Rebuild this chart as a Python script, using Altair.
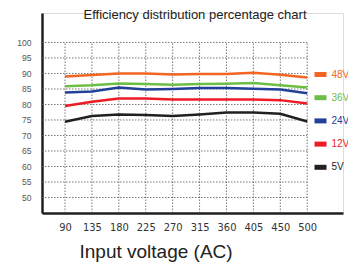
import altair as alt
import pandas as pd

voltages = [90, 135, 180, 225, 270, 315, 360, 405, 450, 500]
eff_48v = [89.0, 89.5, 90.0, 90.0, 89.7, 89.8, 89.8, 90.2, 89.6, 88.7]
eff_36v = [85.9, 86.2, 86.8, 86.6, 86.4, 86.6, 86.7, 86.9, 86.2, 85.5]
eff_24v = [83.9, 84.2, 85.5, 84.8, 85.0, 85.3, 85.3, 85.1, 84.8, 83.6]
eff_12v = [79.5, 80.9, 81.9, 81.9, 81.6, 81.6, 81.6, 81.6, 81.4, 80.3]
eff_5v = [74.4, 76.3, 76.8, 76.6, 76.3, 76.8, 77.4, 77.4, 77.0, 74.5]
series_names = ["48V", "36V", "24V", "12V", "5V"]
series_colors = ["#F26522", "#6DBE45", "#21409A", "#ED1C24", "#231F20"]
y_ticks = [50, 55, 60, 65, 70, 75, 80, 85, 90, 95, 100]

X_MIN, X_MAX = -0.855, 10.33
Y_MIN, Y_MAX = 45, 109.5

rows = []
for name, vals in zip(series_names, [eff_48v, eff_36v, eff_24v, eff_12v, eff_5v]):
    for i, (v, e) in enumerate(zip(voltages, vals)):
        rows.append({"idx": i, "voltage": v, "eff": e, "series": name})
df = pd.DataFrame(rows)
vgrid = pd.DataFrame({"idx": list(range(len(voltages)))})
hgrid = pd.DataFrame({"eff": y_ticks})

label_expr = "[" + ",".join("'%d'" % v for v in voltages) + "][datum.value]"

xscale = alt.Scale(domain=[X_MIN, X_MAX], nice=False, zero=False)
yscale = alt.Scale(domain=[Y_MIN, Y_MAX], nice=False, zero=False)

x_axis = alt.Axis(
    values=list(range(len(voltages))),
    labelExpr=label_expr,
    labelOverlap=False,
    grid=False,
    ticks=False,
    domainColor="#231F20",
    domainWidth=2.5,
    labelFont="'Liberation Sans Narrow', 'DejaVu Sans Condensed', 'Liberation Sans', sans-serif",
    labelFontSize=11,
    labelColor="#333333",
    labelPadding=8,
    title="Input voltage (AC)",
    titleFont="Liberation Sans",
    titleFontWeight="normal",
    titleFontSize=19,
    titleColor="#222222",
    titleAnchor="start",
    titleAlign="left",
    titleX=37,
    titleY=44,
    titleBaseline="alphabetic",
)
y_axis = alt.Axis(
    values=y_ticks,
    labelOverlap=False,
    grid=False,
    ticks=False,
    domainColor="#231F20",
    domainWidth=2.5,
    labelFont="Liberation Sans",
    labelFontSize=8.5,
    labelColor="#555555",
    labelPadding=11,
    title=None,
)

grid_style = dict(color="#555555", strokeWidth=0.8, strokeDash=[1.5, 1.5])

hlines = alt.Chart(hgrid).mark_rule(**grid_style).encode(
    y=alt.Y("eff:Q", scale=yscale, axis=y_axis),
    x=alt.XDatum(X_MIN, scale=xscale, axis=x_axis),
    x2=alt.datum(len(voltages) - 1),
)
vlines = alt.Chart(vgrid).mark_rule(**grid_style).encode(
    x=alt.X("idx:Q", scale=xscale, axis=x_axis),
    y=alt.YDatum(Y_MIN, scale=yscale, axis=y_axis),
    y2=alt.datum(100),
)

lines = alt.Chart(df).mark_line(strokeWidth=2.5).encode(
    x=alt.X("idx:Q", scale=xscale, axis=x_axis),
    y=alt.Y("eff:Q", scale=yscale, axis=y_axis),
    color=alt.Color(
        "series:N",
        scale=alt.Scale(domain=series_names, range=series_colors),
        sort=series_names,
        legend=alt.Legend(
            title=None,
            orient="none",
            legendX=270,
            legendY=53,
            symbolType="M-1,0L1,0",
            symbolSize=144,
            symbolStrokeWidth=5,
            labelFont="Liberation Sans",
            labelFontSize=10,
            labelOffset=2.5,
            rowPadding=2.2,
            labelColor={"expr": "scale('color', datum.value)"},
        ),
    ),
)

title = alt.Chart(pd.DataFrame({"t": ["Efficiency distribution percentage chart"]})).mark_text(
    font="Liberation Sans", fontSize=13, color="#222222", align="center", baseline="alphabetic"
).encode(text="t:N", x=alt.value(153), y=alt.value(6))

chart = alt.layer(hlines, vlines, lines, title).properties(
    width=301,
    height=200,
    padding={"left": 34, "top": 5, "right": 5, "bottom": 50},
    autosize=alt.AutoSizeParams(type="none"),
).configure_view(stroke=None).configure(background="white")

chart.save("out.html", embed_options={"renderer": "svg", "actions": False})
